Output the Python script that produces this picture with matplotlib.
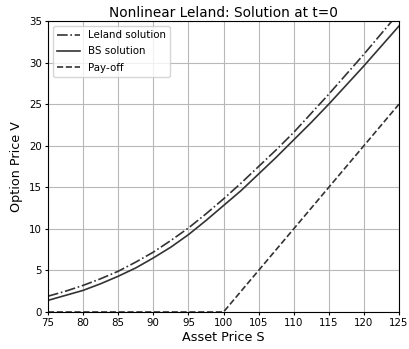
import numpy as np
import matplotlib
matplotlib.use('Agg')
import matplotlib.pyplot as plt

S = [75, 77.5, 80, 82.5, 85, 87.5, 90, 92.5, 95, 97.5, 100,
     102.5, 105, 107.5, 110, 112.5, 115, 117.5, 120, 122.5, 125]
leland = [1.9, 2.5, 3.2, 4.0, 4.9, 6.0, 7.2, 8.6, 10.1, 11.8, 13.6,
          15.5, 17.5, 19.5, 21.6, 23.9, 26.2, 28.6, 31.0, 33.5, 36.0]
bs = [1.4, 2.0, 2.6, 3.4, 4.3, 5.3, 6.5, 7.8, 9.3, 11.0, 12.8,
      14.6, 16.6, 18.6, 20.7, 22.8, 25.0, 27.3, 29.6, 32.0, 34.4]
payoff_S = [75, 100, 125]
payoff = [0, 0, 25]

fig = plt.figure(figsize=(4.09, 3.49), dpi=100)
ax = fig.add_axes([48/409, 1 - 312/349, 351/409, 291/349])

c = '#333333'
ax.plot(S, leland, '-.', color=c, lw=1.2, label='Leland solution')
ax.plot(S, bs, '-', color=c, lw=1.2, label='BS solution')
ax.plot(payoff_S, payoff, '--', color=c, lw=1.2, label='Pay-off')

ax.set_xlim(75, 125)
ax.set_ylim(0, 35)
ax.set_xticks(np.arange(75, 126, 5))
ax.set_yticks(np.arange(0, 36, 5))
ax.grid(True, color='#b8b8b8', lw=0.8)
ax.tick_params(labelsize=7.4, length=2.5, pad=2)
ax.set_xlabel('Asset Price S', fontsize=9.2, labelpad=2)
ax.set_ylabel('Option Price V', fontsize=9.2, labelpad=4)
ax.set_title('Nonlinear Leland: Solution at t=0', fontsize=9.8, pad=3)
ax.legend(loc='upper left', fontsize=7.4, handlelength=2.2, labelspacing=0.6)

fig.savefig('out.png', dpi=100)
